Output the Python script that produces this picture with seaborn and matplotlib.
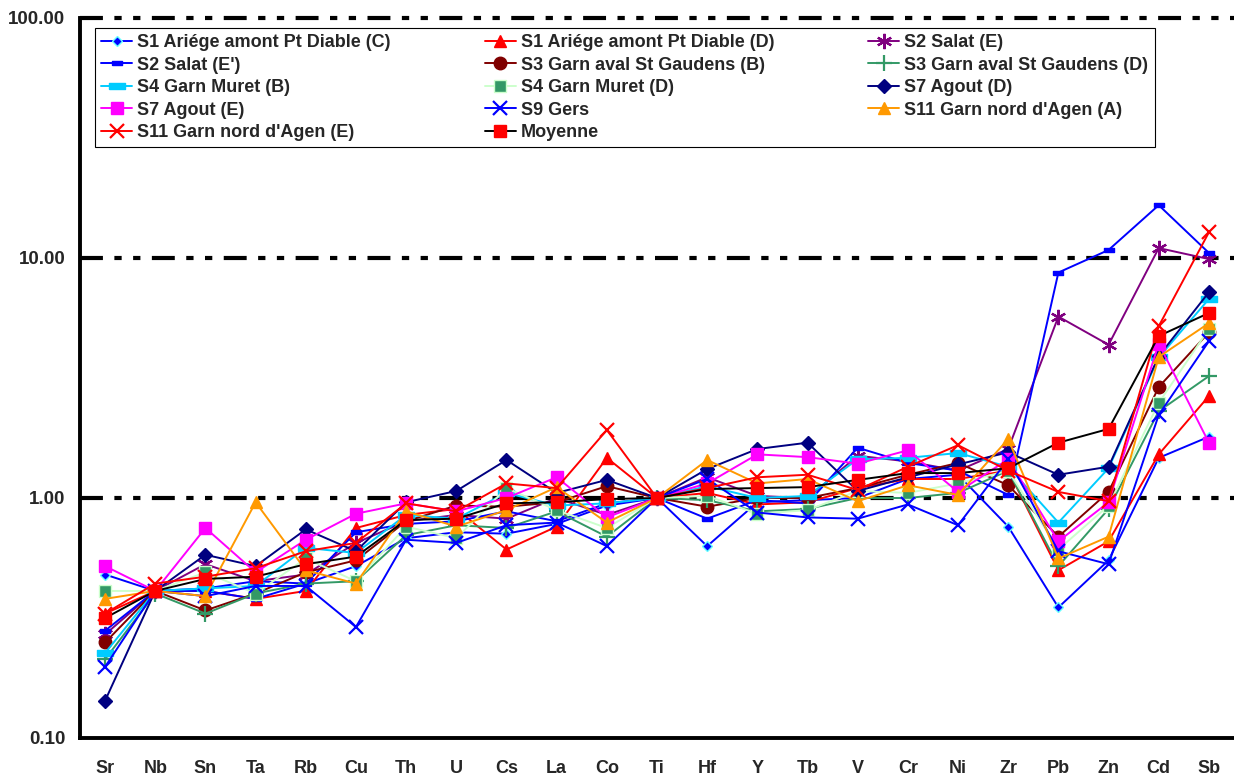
import numpy as np
import pandas as pd
import matplotlib
matplotlib.use("Agg")
import matplotlib.pyplot as plt
import seaborn as sns
from matplotlib.ticker import FixedLocator, FormatStrFormatter, NullLocator

# Elements (x categories), normalised concentrations
elements = ['Sr', 'Nb', 'Sn', 'Ta', 'Rb', 'Cu', 'Th', 'U', 'Cs', 'La', 'Co', 'Ti',
            'Hf', 'Y', 'Tb', 'V', 'Cr', 'Ni', 'Zr', 'Pb', 'Zn', 'Cd', 'Sb']

s1_c = [0.48, 0.41, 0.42, 0.45, 0.44, 0.52, 0.68, 0.72, 0.71, 0.78, 0.93, 1.0,
        0.63, 0.96, 0.98, 1.0, 1.2, 1.25, 0.76, 0.35, 0.55, 1.47, 1.8]
s1_d = [0.33, 0.41, 0.41, 0.38, 0.41, 0.75, 0.85, 0.90, 0.61, 0.76, 1.47, 1.0,
        1.05, 0.94, 0.96, 1.1, 1.2, 1.2, 1.3, 0.50, 0.66, 1.52, 2.66]
s2_e = [0.27, 0.41, 0.53, 0.45, 0.48, 0.65, 0.80, 0.85, 0.82, 1.0, 0.85, 1.0,
        1.22, 1.02, 1.0, 1.5, 1.42, 1.3, 1.6, 5.7, 4.35, 11.0, 9.9]
s2_e2 = [0.28, 0.41, 0.41, 0.38, 0.44, 0.72, 0.78, 0.80, 0.88, 0.80, 0.95, 1.0,
         0.82, 0.98, 0.95, 1.62, 1.4, 1.3, 1.03, 8.7, 10.8, 16.6, 10.5]
s3_b = [0.25, 0.41, 0.34, 0.40, 0.49, 0.55, 0.80, 0.93, 0.92, 0.96, 1.12, 1.0,
        0.92, 1.0, 1.0, 1.1, 1.25, 1.4, 1.13, 0.69, 1.06, 2.9, 4.9]
s3_d = [0.213, 0.40, 0.33, 0.40, 0.44, 0.45, 0.70, 0.77, 0.75, 0.88, 0.69, 1.0,
        0.98, 0.88, 0.90, 1.0, 1.0, 1.05, 1.3, 0.52, 0.90, 2.3, 3.22]
s4_b = [0.226, 0.41, 0.42, 0.43, 0.62, 0.59, 0.85, 0.82, 1.05, 0.93, 0.95, 1.0,
        1.12, 1.0, 1.02, 1.45, 1.47, 1.54, 1.35, 0.79, 1.33, 3.85, 6.75]
s4_d = [0.41, 0.41, 0.49, 0.40, 0.56, 0.45, 0.76, 0.68, 1.10, 0.89, 0.75, 1.0,
        1.02, 0.86, 0.89, 1.07, 1.05, 1.15, 1.3, 0.61, 0.93, 2.49, 5.06]
s7_d = [0.143, 0.41, 0.58, 0.52, 0.74, 0.60, 0.96, 1.07, 1.44, 1.05, 1.19, 1.0,
        1.32, 1.6, 1.7, 1.07, 1.22, 1.38, 1.55, 1.25, 1.35, 3.9, 7.2]
s7_e = [0.52, 0.41, 0.75, 0.49, 0.67, 0.86, 0.95, 0.88, 1.0, 1.22, 0.83, 1.0,
        1.15, 1.52, 1.48, 1.39, 1.58, 1.06, 1.45, 0.66, 0.96, 4.4, 1.7]
s9 = [0.198, 0.41, 0.39, 0.43, 0.43, 0.29, 0.67, 0.65, 0.77, 0.79, 0.63, 1.0,
      1.2, 0.87, 0.83, 0.82, 0.94, 0.77, 1.45, 0.60, 0.53, 2.22, 4.5]
s11_a = [0.38, 0.41, 0.39, 0.96, 0.50, 0.44, 0.88, 0.76, 0.89, 1.11, 0.79, 1.0,
         1.44, 1.15, 1.2, 0.97, 1.13, 1.03, 1.76, 0.56, 0.69, 3.87, 5.35]
s11_e = [0.33, 0.44, 0.47, 0.51, 0.60, 0.65, 0.95, 0.88, 1.15, 1.1, 1.92, 1.0,
         1.1, 1.22, 1.25, 1.08, 1.35, 1.66, 1.3, 1.06, 0.97, 5.2, 12.8]
moyenne = [0.316, 0.41, 0.46, 0.47, 0.53, 0.57, 0.81, 0.82, 0.95, 0.96, 0.99, 1.0,
           1.09, 1.1, 1.11, 1.19, 1.27, 1.27, 1.33, 1.7, 1.94, 4.73, 5.9]

labels = ["S1 Ariége amont Pt Diable (C)", "S1 Ariége amont Pt Diable (D)", "S2 Salat (E)",
          "S2 Salat (E')", "S3 Garn aval St Gaudens (B)", "S3 Garn aval St Gaudens (D)",
          "S4 Garn Muret (B)", "S4 Garn Muret (D)", "S7 Agout (D)",
          "S7 Agout (E)", "S9 Gers", "S11 Garn nord d'Agen (A)",
          "S11 Garn nord d'Agen (E)", "Moyenne"]
series = [s1_c, s1_d, s2_e, s2_e2, s3_b, s3_d, s4_b, s4_d, s7_d, s7_e, s9, s11_a, s11_e, moyenne]

# Excel-like "dash" marker: flat rectangle
dash_marker = [(-1, -0.45), (1, -0.45), (1, 0.45), (-1, 0.45), (-1, -0.45)]

# line colour, marker, marker face, marker edge, marker size
styles = [
    ('#0000FF', 'D', '#0000FF', '#66FFFF', 5),
    ('#FF0000', '^', '#FF0000', '#FF0000', 9),
    ('#800080', (6, 2, 0), '#800080', '#800080', 11),
    ('#0000FF', dash_marker, '#0000FF', '#0000FF', 7),
    ('#800000', 'o', '#800000', '#800000', 9),
    ('#339966', '+', '#339966', '#339966', 12),
    ('#00CCFF', dash_marker, '#00CCFF', '#00CCFF', 11),
    ('#CCFFCC', 's', '#339966', '#CCFFCC', 8),
    ('#000080', 'D', '#000080', '#000080', 7),
    ('#FF00FF', 's', '#FF00FF', '#FF00FF', 9),
    ('#0000FF', 'x', '#0000FF', '#0000FF', 10),
    ('#FF9900', '^', '#FF9900', '#FF9900', 9),
    ('#FF0000', 'x', '#FF0000', '#FF0000', 10),
    ('#000000', 's', '#FF0000', '#FF0000', 9),
]

sns.set_style("white")
plt.rcParams['font.family'] = ['Liberation Sans', 'DejaVu Sans']
plt.rcParams['font.weight'] = 'bold'

fig = plt.figure(figsize=(12.34, 7.8), dpi=100)
ax = fig.add_axes([80 / 1234, 1 - 738 / 780, 1154 / 1234, 720 / 780])

x = np.arange(len(elements))
for lab, vals, (lc, mk, mfc, mec, ms) in zip(labels, series, styles):
    df = pd.DataFrame({'x': x, 'y': vals})
    sns.lineplot(data=df, x='x', y='y', ax=ax, color=lc, marker=mk, markersize=ms,
                 markerfacecolor=mfc, markeredgecolor=mec,
                 markeredgewidth=1.6 if mk in ('+', 'x') or isinstance(mk, tuple) else 1.0,
                 linewidth=1.4, label=lab, legend=False, sort=False)

# dash-dot reference lines at each decade
for yv in [1, 10, 100]:
    ax.axhline(yv, color='black', linewidth=3.0, zorder=0.5, clip_on=False,
               dashes=(5.5, 2.75, 1.75, 2.75, 1.75, 2.75))

ax.set_yscale('log')
ax.set_ylim(0.1, 100)
ax.set_xlim(-0.5, len(elements) - 0.5)
ax.yaxis.set_major_locator(FixedLocator([0.1, 1, 10, 100]))
ax.yaxis.set_major_formatter(FormatStrFormatter('%.2f'))
ax.yaxis.set_minor_locator(NullLocator())
ax.set_xticks(x)
ax.set_xticklabels(elements)
ax.set_xticks(np.arange(len(elements) - 1) + 0.5, minor=True)
ax.tick_params(axis='x', which='major', length=0, pad=16, labelsize=13)
ax.tick_params(axis='x', which='minor', length=6, width=2, direction='out')
ax.tick_params(axis='y', which='major', length=9, width=2.5, direction='out',
               pad=1.5, labelsize=13.5)
for lbl in ax.get_xticklabels() + ax.get_yticklabels():
    lbl.set_fontweight('bold')
ax.set_xlabel('')
ax.set_ylabel('')

for side in ['top', 'right']:
    ax.spines[side].set_visible(False)
for side in ['left', 'bottom']:
    ax.spines[side].set_linewidth(2.8)
    ax.spines[side].set_color('black')

# legend filled row by row like the original (matplotlib fills columns)
handles, hl = ax.get_legend_handles_labels()
order = [0, 3, 6, 9, 12, 1, 4, 7, 10, 13, 2, 5, 8, 11]
leg = ax.legend([handles[i] for i in order], [hl[i] for i in order], ncol=3,
                loc='upper left', bbox_to_anchor=(0.013, 0.986), borderaxespad=0,
                frameon=True, fancybox=False, edgecolor='black', framealpha=1,
                prop={'weight': 'bold', 'size': 13}, handlelength=1.7,
                labelspacing=0.3, borderpad=0.35, handletextpad=0.3, columnspacing=5.2)
leg.get_frame().set_linewidth(0.8)

fig.savefig('out.png', dpi=100)
